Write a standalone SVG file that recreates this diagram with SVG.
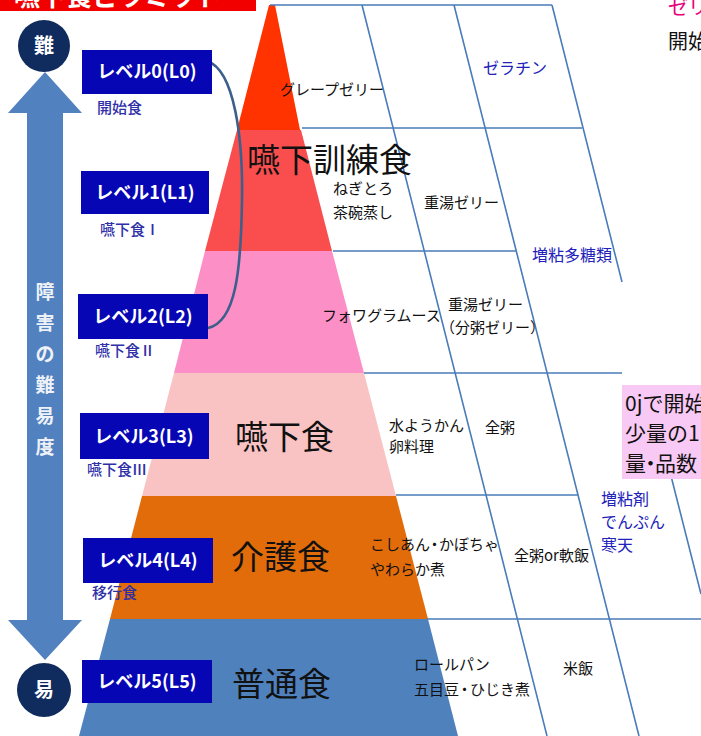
<svg xmlns="http://www.w3.org/2000/svg" width="701" height="736" viewBox="0 0 701 736">
<style>
text{font-family:"Noto Sans CJK JP","Noto Sans",sans-serif}
.lv{fill:#0606B4}
.lvt{fill:#fff;font-weight:bold;font-size:18px;text-anchor:middle}
.sub{fill:#2F2FA8;font-size:15px;font-weight:500}
.big{fill:#111;font-size:33px}
.food{fill:#111;font-size:15px}
.blu{fill:#2222BB;font-size:16px}
.grid{stroke:#4A7CB9;stroke-width:1.6;fill:none}
</style>
<rect width="701" height="736" fill="#fff"/>
<g id="banner">
<rect x="0" y="0" width="256" height="11" fill="#F20000"/>
<text x="14" y="6" fill="#fff" font-size="26" font-weight="bold">嚥下食ピラミッド</text>
</g>
<g id="pyramid">
<polygon points="269,5 275,5 300,130 237,130" fill="#FF3300"/>
<polygon points="237,130 301,130 332,251 205,251" fill="#FA4E4E"/>
<polygon points="205,251 332,251 364,373 174,373" fill="#FB8FC6"/>
<polygon points="174,373 364,373 396,496 142,496" fill="#F9C3C3"/>
<polygon points="142,496 396,496 428,619 110,619" fill="#E36C0A"/>
<polygon points="110,619 428,619 458,736 79,736" fill="#4F81BD"/>
</g>
<g id="connectors">
<path class="grid" d="M270,5 H552 M302,128 H582 M333,251 H516 M364,373 H622 M396,495 H578 M427,619 H701"/>
<path class="grid" d="M362,5 L547,736 M454,5 L639,736 M552,5 L622,282 M670,472 L701,594"/>
<path d="M207,61 C235,70 243,140 242,200 C241,270 236,322 208,328" fill="none" stroke="#3C5F8C" stroke-width="2.6" stroke-linecap="round"/>
</g>
<g id="arrow">
<polygon points="45,72 82,113 63,113 63,620 82,620 45,660 8,620 27,620 27,113 8,113" fill="#5181BE"/>
<g fill="#EEF2F8" font-size="19" font-weight="bold" text-anchor="middle">
<text x="45" y="299">障</text>
<text x="45" y="330">害</text>
<text x="45" y="361">の</text>
<text x="45" y="392">難</text>
<text x="45" y="423">易</text>
<text x="45" y="454">度</text>
</g>
</g>
<g id="hard"><circle cx="44" cy="46" r="26" fill="#102B5E"/><text x="44" y="53" fill="#fff" font-size="20" font-weight="bold" text-anchor="middle">難</text></g>
<g id="easy"><circle cx="44" cy="690" r="27" fill="#102B5E"/><text x="44" y="697" fill="#fff" font-size="20" font-weight="bold" text-anchor="middle">易</text></g>
<g id="L0"><rect class="lv" x="82" y="50" width="130" height="44"/><text class="lvt" x="147" y="78">レベル0(L0)</text><text class="sub" x="97" y="113">開始食</text></g>
<g id="L1"><rect class="lv" x="81" y="171" width="128" height="43"/><text class="lvt" x="145" y="199">レベル1(L1)</text><text class="sub" x="100" y="235">嚥下食Ⅰ</text></g>
<g id="L2"><rect class="lv" x="78" y="294" width="130" height="45"/><text class="lvt" x="143" y="323">レベル2(L2)</text><text class="sub" x="95" y="356">嚥下食Ⅱ</text></g>
<g id="L3"><rect class="lv" x="80" y="413" width="129" height="46"/><text class="lvt" x="144" y="443">レベル3(L3)</text><text class="sub" x="87" y="475">嚥下食Ⅲ</text></g>
<g id="L4"><rect class="lv" x="83" y="538" width="130" height="45"/><text class="lvt" x="148" y="567">レベル4(L4)</text><text class="sub" x="92" y="598">移行食</text></g>
<g id="L5"><rect class="lv" x="82" y="660" width="130" height="43"/><text class="lvt" x="147" y="688">レベル5(L5)</text></g>
<g id="labels">
<text class="food" x="280" y="95" font-size="14.5">グレープゼリー</text>
<text class="blu" x="483" y="74" font-size="15">ゼラチン</text>
<text class="big" x="247" y="172">嚥下訓練食</text>
<text class="food" x="333" y="194">ねぎとろ</text>
<text class="food" x="333" y="218">茶碗蒸し</text>
<text class="food" x="424" y="208">重湯ゼリー</text>
<text class="blu" x="532" y="261">増粘多糖類</text>
<text class="food" x="322" y="321">フォワグラムース</text>
<text class="food" x="448" y="310">重湯ゼリー</text>
<text class="food" x="440" y="333">（分粥ゼリー）</text>
<text class="big" x="235" y="449">嚥下食</text>
<text class="food" x="389" y="431">水ようかん</text>
<text class="food" x="389" y="452">卵料理</text>
<text class="food" x="485" y="433">全粥</text>
<text class="big" x="231" y="569">介護食</text>
<text class="food" x="370" y="550">こしあん<tspan dx="-3">・</tspan><tspan dx="-3">かぼちゃ</tspan></text>
<text class="food" x="370" y="575">やわらか煮</text>
<text class="food" x="514" y="561">全粥or軟飯</text>
<text class="blu" x="601" y="505">増粘剤</text>
<text class="blu" x="601" y="528">でんぷん</text>
<text class="blu" x="601" y="551">寒天</text>
<text class="big" x="232" y="696">普通食</text>
<text class="food" x="414" y="670">ロールパン</text>
<text class="food" x="414" y="695">五目豆<tspan dx="-2">・</tspan><tspan dx="-2">ひじき煮</tspan></text>
<text class="food" x="563" y="674">米飯</text>
</g>
<g id="note">
<rect x="622" y="385" width="79" height="94" fill="#F8C9F4"/>
<text x="625" y="411" font-size="21" fill="#111">0jで開始</text>
<text x="625" y="441" font-size="21" fill="#111">少量の1</text>
<text x="625" y="471" font-size="21" fill="#111">量<tspan dx="-6">・</tspan><tspan dx="-6">品数</tspan></text>
</g>
<g id="topright">
<text x="668" y="15" font-size="20" fill="#E6007E">ゼリ</text>
<text x="668" y="49" font-size="20" fill="#111">開始</text>
</g>
</svg>
